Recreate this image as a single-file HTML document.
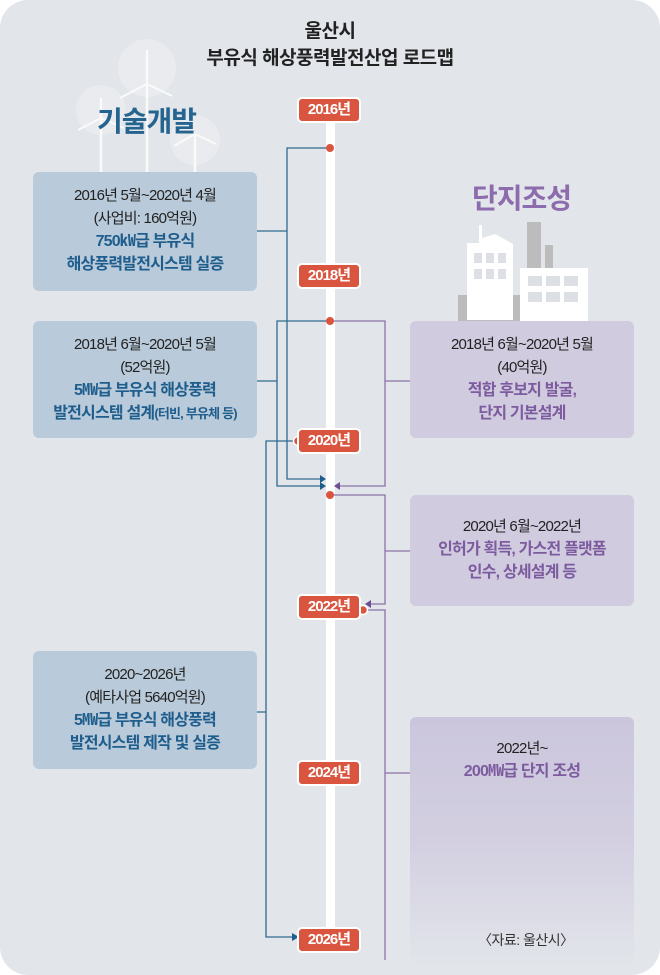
<!DOCTYPE html><html><head><meta charset="utf-8"><style>
body{margin:0;width:660px;height:975px;background:#fff;font-family:"Liberation Sans","Noto Sans CJK KR",sans-serif;}
.wrap{position:absolute;left:0;top:0;width:660px;height:975px;background:#e2e6ea;border-radius:28px;overflow:hidden}
.t{position:absolute;width:100%;text-align:center;font-weight:bold;color:#222;font-size:19px;letter-spacing:-0.5px}
.box{position:absolute;border-radius:6px;text-align:center;font-size:15px;line-height:23px;color:#222;letter-spacing:-0.8px;box-sizing:border-box}
.box b{font-size:16px}
.L{background:#b9cada;left:33px;width:224px}
.R{background:#d0cbdf;left:410px;width:224px}
.L b{color:#1f5e8c}.R b{color:#7d5b9f}
.yr{position:absolute;background:#d9553f;color:#fff;font-weight:bold;font-size:15px;border:2px solid #fff;border-radius:5px;width:60px;height:22px;line-height:22px;text-align:center;letter-spacing:-1px}
</style></head><body><div class="wrap">
<svg width="660" height="975" style="position:absolute;left:0;top:0">
<g fill="#e9ebee"><circle cx="147" cy="68" r="29"/><circle cx="101" cy="110" r="25"/><circle cx="195" cy="140" r="25"/></g>
<g stroke="#fafafa" stroke-width="2.5"><line x1="147" y1="50" x2="147" y2="172"/><line x1="101" y1="98" x2="101" y2="172"/><line x1="195" y1="134" x2="195" y2="172"/>
<path d="M147 84 L147 50 M147 84 L120 98 M147 84 L172 96 M101 118 L101 98 M101 118 L78 130 M101 118 L124 128 M195 134 L174 146 M195 134 L216 144" stroke-width="2"/></g>
<rect x="458" y="295" width="64" height="30" fill="#bcbcbc"/>
<rect x="527" y="222" width="14" height="80" fill="#bcbcbc"/><rect x="545" y="245" width="8" height="55" fill="#bcbcbc"/>
<path d="M467 243 L479 243 L479 225 L482 225 L482 238 L495 234 L513 244 L513 320 L467 320Z" fill="#fff"/>
<rect x="520" y="268" width="68" height="55" fill="#fff"/>
<g fill="#dcdfe3"><rect x="474" y="253" width="8" height="10"/><rect x="486" y="253" width="8" height="10"/><rect x="498" y="253" width="8" height="10"/><rect x="474" y="269" width="8" height="10"/><rect x="486" y="269" width="8" height="10"/><rect x="498" y="269" width="8" height="10"/>
<rect x="528" y="276" width="14" height="10"/><rect x="546" y="276" width="14" height="10"/><rect x="564" y="276" width="14" height="10"/><rect x="528" y="292" width="14" height="10"/><rect x="546" y="292" width="14" height="10"/><rect x="564" y="292" width="14" height="10"/></g>
<rect x="326" y="110" width="9" height="840" fill="#fff"/>
<g fill="none" stroke="#2f6a90" stroke-width="1.3">
<path d="M330 148 H287 V479 H320 M257 231 H287"/>
<path d="M330 321 H277 V486 H320 M257 381 H277"/>
<path d="M298 441 H266 V937 H293 M257 712 H266"/></g>
<g fill="#1f5e8c"><path d="M326 479 l-6 -4 v8z"/><path d="M326 486 l-6 -4 v8z"/><path d="M299 937 l-7 -4 v8z"/></g>
<g fill="none" stroke="#8a73a8" stroke-width="1.3">
<path d="M330 321 H385 V486 H340 M385 381 H410"/>
<path d="M330 495 H385 V604 H370 M385 551 H410"/>
<path d="M363 610 H385 V960 M385 773 H410"/></g>
<g fill="#6b4f92"><path d="M334 486 l6 -4 v8z"/><path d="M365 604 l6 -4 v8z"/></g>
<g fill="#d9553f"><circle cx="330" cy="148" r="4"/><circle cx="330" cy="321" r="4"/><circle cx="330" cy="495" r="4"/></g>
<g fill="#d9553f" stroke="#fff" stroke-width="1.5"><circle cx="298" cy="441" r="4.5"/><circle cx="363" cy="610" r="4.5"/></g>
<defs><linearGradient id="g" x1="0" y1="0" x2="0" y2="1"><stop offset="0" stop-color="#cbc6dc"/><stop offset="0.5" stop-color="#d3cfe1"/><stop offset="1" stop-color="#e2e5ea"/></linearGradient></defs>
<rect x="410" y="717" width="224" height="250" rx="6" fill="url(#g)"/>
</svg>
<div class="t" style="top:16px">울산시</div>
<div class="t" style="top:43px">부유식 해상풍력발전산업 로드맵</div>
<div style="position:absolute;left:97px;top:100px;font-size:28px;font-weight:bold;color:#25648f;letter-spacing:-1px">기술개발</div>
<div style="position:absolute;left:472px;top:177px;font-size:28px;font-weight:bold;color:#8d6cae;letter-spacing:-1px">단지조성</div>
<div class="yr" style="left:297px;top:97px">2016년</div>
<div class="yr" style="left:297px;top:263px">2018년</div>
<div class="yr" style="left:297px;top:428px">2020년</div>
<div class="yr" style="left:297px;top:594px">2022년</div>
<div class="yr" style="left:297px;top:760px">2024년</div>
<div class="yr" style="left:297px;top:927px">2026년</div>
<div class="box L" style="top:172px;height:119px;padding-top:12px">2016년 5월~2020년 4월<br>(사업비: 160억원)<br><b>750㎾급 부유식<br>해상풍력발전시스템 실증</b></div>
<div class="box L" style="top:321px;height:117px;padding-top:12px">2018년 6월~2020년 5월<br>(52억원)<br><b>5㎿급 부유식 해상풍력<br>발전시스템 설계</b><span style="color:#1f5e8c;font-size:13px;font-weight:bold">(터빈, 부유체 등)</span></div>
<div class="box L" style="top:651px;height:118px;padding-top:12px">2020~2026년<br>(예타사업 5640억원)<br><b>5㎿급 부유식 해상풍력<br>발전시스템 제작 및 실증</b></div>
<div class="box R" style="top:321px;height:117px;padding-top:12px">2018년 6월~2020년 5월<br>(40억원)<br><b>적합 후보지 발굴,<br>단지 기본설계</b></div>
<div class="box R" style="top:495px;height:111px;padding-top:20px">2020년 6월~2022년<br><b>인허가 획득, 가스전 플랫폼<br>인수, 상세설계 등</b></div>
<div class="box" style="left:410px;width:224px;top:737px">2022년~<br><b style="color:#7d5b9f">200㎿급 단지 조성</b></div>
<div style="position:absolute;left:478px;top:930px;font-size:14px;color:#333;letter-spacing:-0.5px">〈자료: 울산시〉</div>
</div></body></html>
